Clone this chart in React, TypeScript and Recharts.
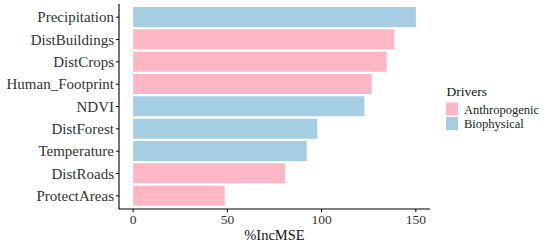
import React from "react";
import { BarChart, Bar, XAxis, YAxis, Cell } from "recharts";

const categories = [
  "Precipitation",
  "DistBuildings",
  "DistCrops",
  "Human_Footprint",
  "NDVI",
  "DistForest",
  "Temperature",
  "DistRoads",
  "ProtectAreas",
];
const incMSE = [150, 138.6, 134.5, 126.6, 122.7, 97.7, 92.1, 80.6, 48.6];
const drivers = [
  "Biophysical",
  "Anthropogenic",
  "Anthropogenic",
  "Anthropogenic",
  "Biophysical",
  "Biophysical",
  "Biophysical",
  "Anthropogenic",
  "Anthropogenic",
];
const xTicks = [0, 50, 100, 150];
const legendItems = ["Anthropogenic", "Biophysical"];
const colors: Record<string, string> = {
  Anthropogenic: "#FFB6C5",
  Biophysical: "#A6CEE3",
};

const data = categories.map((name, i) => ({ name, value: incMSE[i], driver: drivers[i] }));
const FONT = '"Liberation Serif", serif';

export default function App() {
  return (
    <div style={{ position: "absolute", left: 0, top: 0, width: 550, height: 245, background: "#fff", fontFamily: FONT }}>
      <BarChart
        width={550}
        height={245}
        data={data}
        layout="vertical"
        margin={{ top: 4, right: 120, bottom: 0, left: 0 }}
        style={{ fontFamily: FONT }}
      >
        <XAxis
          type="number"
          domain={[-7.5, 157.5]}
          ticks={xTicks}
          allowDataOverflow
          height={36}
          tickSize={3}
          tickMargin={2}
          axisLine={{ stroke: "#000", strokeWidth: 1.1 }}
          tickLine={{ stroke: "#000" }}
          tick={{ fontSize: 13.5, fill: "#333", style: { fontFamily: FONT } }}
          label={{ value: "%IncMSE", position: "insideBottom", offset: 5, fontSize: 14.5, fill: "#111", style: { fontFamily: FONT } }}
        />
        <YAxis
          type="category"
          dataKey="name"
          width={119}
          tickSize={3}
          tickMargin={2}
          padding={{ top: 2, bottom: 2 }}
          axisLine={{ stroke: "#000", strokeWidth: 1.1 }}
          tickLine={{ stroke: "#000" }}
          tick={{ fontSize: 15, fill: "#333", style: { fontFamily: FONT } }}
          interval={0}
        />
        <Bar dataKey="value" barSize={20} isAnimationActive={false}>
          {data.map((d, i) => (
            <Cell key={i} fill={colors[d.driver]} />
          ))}
        </Bar>
      </BarChart>
      <svg width={110} height={60} style={{ position: "absolute", left: 440, top: 80 }}>
        <text x={6.5} y={16} fontSize={13.5} fill="#111" style={{ fontFamily: FONT }}>Drivers</text>
        {legendItems.map((item, i) => (
          <g key={item}>
            <rect x={6} y={22.5 + i * 14.5} width={12} height={13} fill={colors[item]} />
            <text x={24} y={33.5 + i * 14.5} fontSize={12.5} fill="#222" style={{ fontFamily: FONT }}>{item}</text>
          </g>
        ))}
      </svg>
    </div>
  );
}
